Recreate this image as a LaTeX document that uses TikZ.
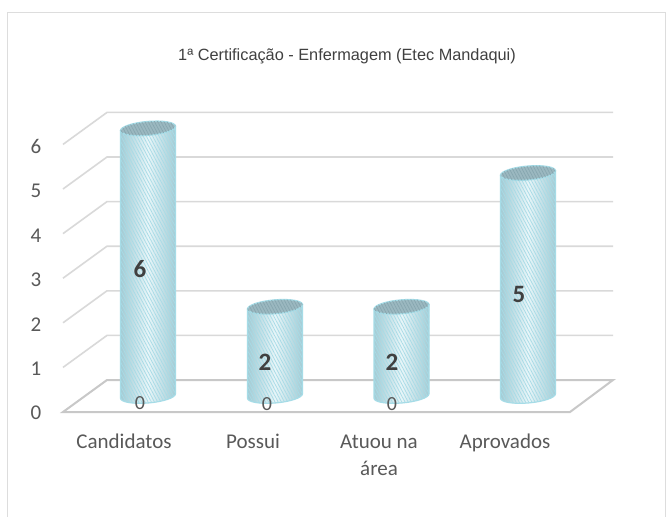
\documentclass[tikz,border=0pt]{standalone}
\usepackage{fontspec}
\setmainfont{Carlito}
\newfontfamily\titlefont{Liberation Sans}
\usetikzlibrary{patterns.meta}
\definecolor{gridc}{HTML}{D9D9D9}
\definecolor{floorc}{HTML}{C8C8C8}
\definecolor{framec}{HTML}{DDDDDD}
\definecolor{txtc}{HTML}{595959}
\definecolor{valc}{HTML}{404040}
\definecolor{cylEdge}{HTML}{A3CBD4}
\definecolor{cylMid}{HTML}{E8F6F9}
\definecolor{cylLine}{HTML}{A8DBE6}
\definecolor{cylOut}{HTML}{A6DCE7}
\definecolor{cylTop}{HTML}{9BB8C0}
\definecolor{cylTopLine}{HTML}{86A6AF}
\tikzset{
  gridline/.style={draw=gridc, line width=1.6pt},
  floorline/.style={draw=floorc, line width=2pt},
  ticklbl/.style={font=\fontsize{21}{24}\selectfont, text=txtc, inner sep=0pt},
  catlbl/.style={font=\fontsize{21}{27}\selectfont, text=txtc, inner sep=0pt, align=center, anchor=base},
  vallbl/.style={font=\fontsize{25}{28}\selectfont\bfseries, text=valc, inner sep=0pt},
  zerolbl/.style={font=\fontsize{20}{22}\selectfont, text=txtc, inner sep=0pt},
  cylbody/.style={preaction={left color=cylEdge, right color=cylEdge, middle color=cylMid},
    pattern={Lines[angle=-62,distance=2.8pt,line width=0.75pt]}, pattern color=cylLine,
    draw=cylOut, line width=1.2pt},
  cyltop/.style={fill=cylTop,
    postaction={pattern={Lines[angle=-62,distance=2.8pt,line width=0.7pt]}, pattern color=cylTopLine},
    draw=cylOut, line width=1.2pt},
}
\newcommand\cylbar[2]{%
  \pgfmathsetmacro\cyltopy{-44.6*#2}%
  \begin{scope}[shift={(#1,396)}, yslant=0.08]
    \path[cylbody] (-27.5,\cyltopy) -- (-27.5,0)
      arc[start angle=180, end angle=360, x radius=27.5pt, y radius=7pt]
      -- (27.5,\cyltopy) -- cycle;
    \path[cyltop] (0,\cyltopy) ellipse[x radius=27.5pt, y radius=7pt];
  \end{scope}}
\begin{document}
\begin{tikzpicture}[x=1pt, y=-1pt]
\useasboundingbox (0,0) rectangle (670,517);
\fill[white] (0,0) rectangle (670,517);
% frame
\draw[draw=framec, line width=1pt] (7,517) -- (7,12) -- (665,12) -- (665,517);
% title
\node[font=\titlefont\fontsize{16.3}{18}\selectfont, text=valc, inner sep=0pt] (title) at (347,56)
  {1ª Certificação - Enfermagem (Etec Mandaqui)};
% grid walls
\foreach \k in {1,...,6} {
  \draw[gridline] (63,{412-44.6*\k}) -- (107,{380-44.6*\k}) -- (613,{380-44.6*\k});
}
% floor
\draw[floorline] (63,412) -- (570,412) -- (613,380) -- (107,380) -- cycle;
% tick labels
\foreach \k in {0,...,6} {
  \node[ticklbl] (t\k) at (36,{413-44.4*\k}) {\k};
}
% cylinders
\cylbar{148}{6}
\cylbar{275}{2}
\cylbar{401.5}{2}
\cylbar{528}{5}
% value labels
\node[vallbl] (v1) at (140,269) {6};
\node[vallbl] (v2) at (265,362) {2};
\node[vallbl] (v3) at (392,362) {2};
\node[vallbl] (v4) at (519,294) {5};
\node[zerolbl] (z1) at (140,403) {0};
\node[zerolbl] (z2) at (267,404) {0};
\node[zerolbl] (z3) at (392,404) {0};
% category labels
\node[catlbl] (c1) at (124,448) {Candidatos};
\node[catlbl] (c2) at (253,448) {Possui};
\node[catlbl] (c3) at (379,475) {Atuou na\\área};
\node[catlbl] (c4) at (505,448) {Aprovados};
\end{tikzpicture}
\end{document}
